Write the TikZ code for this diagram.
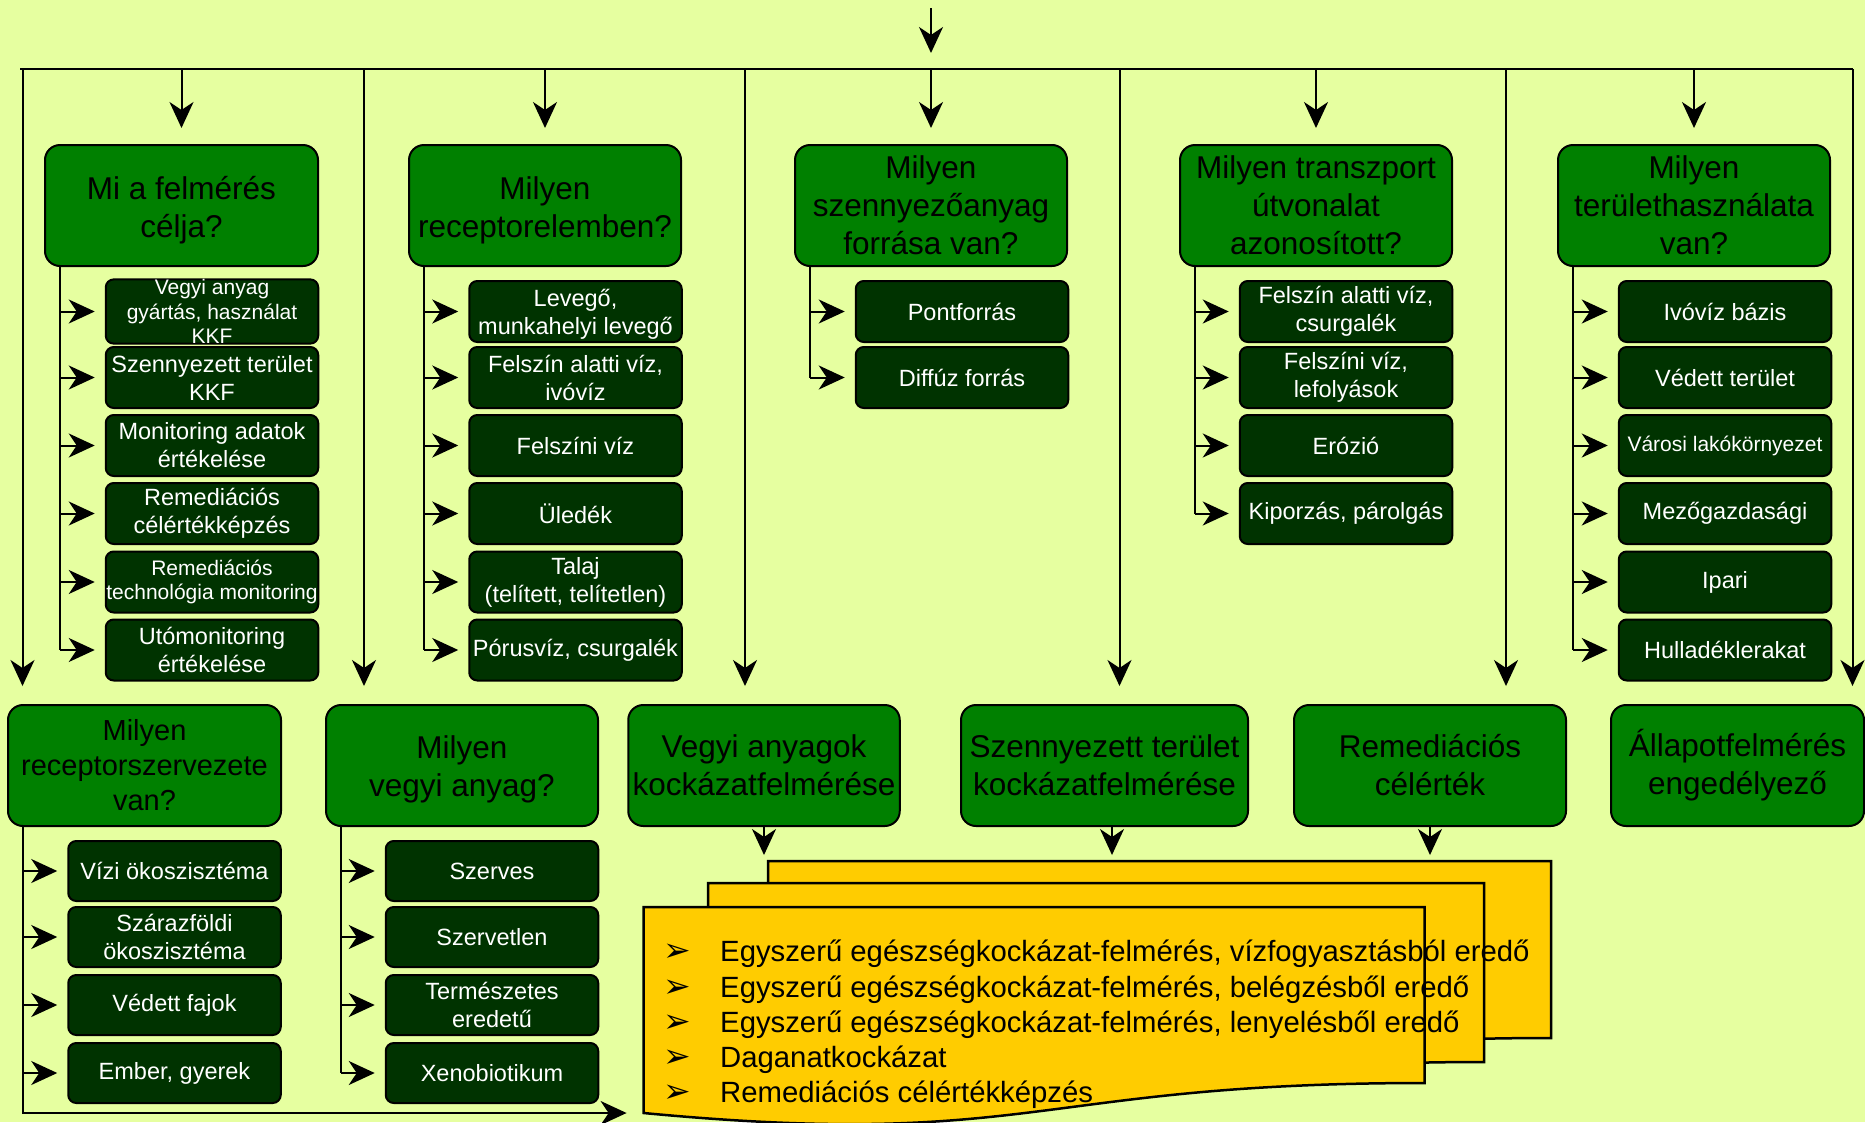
\documentclass[tikz,border=0pt]{standalone}
\usepackage{fontspec}
\setmainfont{Liberation Sans}
\newfontfamily\dejavu{DejaVu Sans}
\usetikzlibrary{arrows.meta,calc}
\definecolor{bgc}{RGB}{230,255,160}
\definecolor{qgreen}{RGB}{0,128,0}
\definecolor{dgreen}{RGB}{0,51,0}
\definecolor{docy}{RGB}{255,204,0}
\newcommand{\mybul}{{\dejavu\fontsize{33}{33}\selectfont ➢}}
\newcommand{\dn}[2]{\raisebox{-#1}[\height][\depth]{#2}}
\tikzset{
  qbox/.style={draw=black, line width=2pt, fill=qgreen, rounded corners=15pt, inner sep=0pt,
    align=center, text=black, font=\fontsize{31.5}{38}\selectfont, minimum height=121pt},
  sbox/.style={draw=black, line width=2pt, fill=dgreen, rounded corners=8pt, inner sep=0pt,
    align=center, text=white, font=\fontsize{23.5}{28}\selectfont, minimum height=61pt, minimum width=212.5pt},
  ubox/.style={sbox, minimum height=60pt},
  smalltxt/.style={font=\fontsize{21}{24.5}\selectfont},
  conn/.style={line width=2pt, draw=black},
  arr/.style={conn, -{Stealth[length=26pt,width=24pt,inset=8pt]}},
  doc/.style={draw=black, line width=2.5pt, fill=docy, line join=miter},
  litem/.style={anchor=base west, inner sep=0pt, text=black, font=\fontsize{29.3}{35}\selectfont},
}
\begin{document}
\begin{tikzpicture}[x=1pt,y=-1pt]
\useasboundingbox (0,0) rectangle (1865,1122);
\clip (0,0) rectangle (1865,1122);
\fill[bgc] (0,0) rectangle (1865,1122);

% ---------- top boxes ----------
\node[qbox, minimum width=273pt] (t1) at (181.5,205.5) {\dn{5pt}{Mi a felmérés}\\\dn{5pt}{célja?}};
\node[qbox, minimum width=272pt] (t2) at (545,205.5) {\dn{5pt}{Milyen}\\\dn{5pt}{receptorelemben?}};
\node[qbox, minimum width=272pt] (t3) at (931,205.5) {Milyen\\szennyezőanyag\\forrása van?};
\node[qbox, minimum width=272pt] (t4) at (1316,205.5) {Milyen transzport\\útvonalat\\azonosított?};
\node[qbox, minimum width=272pt] (t5) at (1694,205.5) {Milyen\\területhasználata\\van?};

% ---------- sub boxes, top row ----------
\node[sbox, smalltxt] (s11) at (212,311.5) {Vegyi anyag\\gyártás, használat\\KKF};
\node[sbox] (s12) at (212,377.5) {Szennyezett terület\\KKF};
\node[sbox] (s13) at (212,445.5) {Monitoring adatok\\értékelése};
\node[sbox] (s14) at (212,513.5) {Remediációs\\célértékképzés};
\node[sbox, smalltxt] (s15) at (212,582) {Remediációs\\technológia monitoring};
\node[sbox] (s16) at (212,650) {Utómonitoring\\értékelése};

\node[sbox] (s21) at (575.5,311.5) {\dn{3pt}{Levegő,}\\\dn{3pt}{munkahelyi levegő}};
\node[sbox] (s22) at (575.5,377.5) {Felszín alatti víz,\\ivóvíz};
\node[sbox] (s23) at (575.5,445.5) {Felszíni víz};
\node[sbox] (s24) at (575.5,513.5) {Üledék};
\node[sbox] (s25) at (575.5,582) {Talaj\\(telített, telítetlen)};
\node[sbox] (s26) at (575.5,650) {Pórusvíz, csurgalék};

\node[sbox] (s31) at (962,311.5) {Pontforrás};
\node[sbox] (s32) at (962,377.5) {Diffúz forrás};

\node[sbox] (s41) at (1346,311.5) {Felszín alatti víz,\\csurgalék};
\node[sbox] (s42) at (1346,377.5) {Felszíni víz,\\lefolyások};
\node[sbox] (s43) at (1346,445.5) {Erózió};
\node[sbox] (s44) at (1346,513.5) {Kiporzás, párolgás};

\node[sbox] (s51) at (1725,311.5) {Ivóvíz bázis};
\node[sbox] (s52) at (1725,377.5) {Védett terület};
\node[sbox, smalltxt] (s53) at (1725,445.5) {Városi lakókörnyezet};
\node[sbox] (s54) at (1725,513.5) {Mezőgazdasági};
\node[sbox] (s55) at (1725,582) {Ipari};
\node[sbox] (s56) at (1725,650) {Hulladéklerakat};

% ---------- bottom boxes ----------
\node[qbox, minimum width=273pt, font=\fontsize{29}{35}\selectfont] (b1) at (144.5,765.5) {Milyen\\receptorszervezete\\van?};
\node[qbox, minimum width=272pt] (b2) at (462,765.5) {\dn{3.5pt}{Milyen}\\\dn{3.5pt}{vegyi anyag?}};
\node[qbox, minimum width=271.5pt] (b3) at (764,765.5) {Vegyi anyagok\\kockázatfelmérése};
\node[qbox, minimum width=287pt] (b4) at (1104.5,765.5) {Szennyezett terület\\kockázatfelmérése};
\node[qbox, minimum width=272pt] (b5) at (1430,765.5) {Remediációs\\célérték};
\node[qbox, minimum width=253pt] (b6) at (1737.5,765.5) {Állapotfelmérés\\engedélyező};

\node[ubox] (u11) at (174.5,871) {Vízi ökoszisztéma};
\node[ubox] (u12) at (174.5,937) {Szárazföldi\\ökoszisztéma};
\node[ubox] (u13) at (174.5,1005) {Védett fajok};
\node[ubox] (u14) at (174.5,1073) {Ember, gyerek};

\node[ubox] (u21) at (492,871) {Szerves};
\node[ubox] (u22) at (492,937) {Szervetlen};
\node[ubox] (u23) at (492,1005) {Természetes\\eredetű};
\node[ubox] (u24) at (492,1073) {Xenobiotikum};

% ---------- bus and main arrows ----------
\coordinate (busL) at (20,69);
\coordinate (busR) at (1853,69);
\coordinate (src) at (931,8);
\draw[conn] (busL) -- (busR);
\draw[arr, shorten >=16pt] (src) -- (src |- busL);
\foreach \n in {t1,t2,t3,t4,t5}
  \draw[arr, shorten >=16pt] (\n.north |- busL) -- (\n.north);

\coordinate (d1) at (22.5,69);
\coordinate (d2) at (364,69);
\coordinate (d3) at (745,69);
\coordinate (d4) at (1119.5,69);
\coordinate (d5) at (1506,69);
\coordinate (d6) at (1852.5,69);
\draw[arr, shorten >=18pt] (d1) -- (d1 |- b1.north);
\draw[arr, shorten >=18pt] (d2) -- (d2 |- b2.north);
\draw[arr, shorten >=18pt] (d3) -- (d3 |- b3.north);
\draw[arr, shorten >=18pt] (d4) -- (d4 |- b4.north);
\draw[arr, shorten >=18pt] (d5) -- (d5 |- b5.north);
\draw[arr, shorten >=18pt] (d6) -- (d6 |- b6.north);

% ---------- branch lines, top row ----------
\coordinate (v1) at (60,0);
\coordinate (v2) at (424,0);
\coordinate (v3) at (810,0);
\coordinate (v4) at (1195,0);
\coordinate (v5) at (1573,0);
\draw[conn] (v1 |- t1.south) -- (v1 |- s16.west);
\draw[conn] (v2 |- t2.south) -- (v2 |- s26.west);
\draw[conn] (v3 |- t3.south) -- (v3 |- s32.west);
\draw[conn] (v4 |- t4.south) -- (v4 |- s44.west);
\draw[conn] (v5 |- t5.south) -- (v5 |- s56.west);
\foreach \k in {1,...,6} {
  \draw[arr, shorten >=10pt] (v1 |- s1\k.west) -- (s1\k.west);
  \draw[arr, shorten >=10pt] (v2 |- s2\k.west) -- (s2\k.west);
  \draw[arr, shorten >=10pt] (v5 |- s5\k.west) -- (s5\k.west);
}
\foreach \k in {1,2}
  \draw[arr, shorten >=10pt] (v3 |- s3\k.west) -- (s3\k.west);
\foreach \k in {1,...,4}
  \draw[arr, shorten >=10pt] (v4 |- s4\k.west) -- (s4\k.west);

% ---------- documents ----------
\coordinate (docL) at (643.6,1113);
\coordinate (docT) at (0,861);
\draw[doc] (768,861) -- (1551,861) -- (1551,1038)
  .. controls (1159.5,1038) and (1159.5,1105) .. (768,1067) -- cycle;
\draw[doc] (708,883) -- (1484,883) -- (1484,1062)
  .. controls (1096,1062) and (1096,1130) .. (708,1091) -- cycle;
\draw[doc] (643.6,907) -- (1424.5,907) -- (1424.5,1083)
  .. controls (1034,1083) and (1034,1150) .. (docL) -- cycle;

% ---------- branch lines, bottom row ----------
\coordinate (w1) at (22.5,0);
\coordinate (w2) at (341,0);
\draw[arr, shorten >=17pt] (w1 |- b1.south) |- (docL);
\draw[conn] (w2 |- b2.south) -- (w2 |- u24.west);
\foreach \k in {1,...,4} {
  \draw[arr, shorten >=10pt] (w1 |- u1\k.west) -- (u1\k.west);
  \draw[arr, shorten >=10pt] (w2 |- u2\k.west) -- (u2\k.west);
}

% ---------- arrows into the documents ----------
\coordinate (b4s) at ([xshift=7.5pt]b4.south);
\draw[arr, shorten >=6pt] (b3.south) -- (b3.south |- docT);
\draw[arr, shorten >=6pt] (b4s) -- (b4s |- docT);
\draw[arr, shorten >=6pt] (b5.south) -- (b5.south |- docT);

% ---------- list ----------
\node[litem] (li1) at (663,961.7) {\makebox[57pt][l]{\mybul}Egyszerű egészségkockázat-felmérés, vízfogyasztásból eredő};
\node[litem] (li2) at (663,997) {\makebox[57pt][l]{\mybul}Egyszerű egészségkockázat-felmérés, belégzésből eredő};
\node[litem] (li3) at (663,1032.3) {\makebox[57pt][l]{\mybul}Egyszerű egészségkockázat-felmérés, lenyelésből eredő};
\node[litem] (li4) at (663,1067.6) {\makebox[57pt][l]{\mybul}Daganatkockázat};
\node[litem] (li5) at (663,1102.9) {\makebox[57pt][l]{\mybul}Remediációs célértékképzés};
\end{tikzpicture}
\end{document}
